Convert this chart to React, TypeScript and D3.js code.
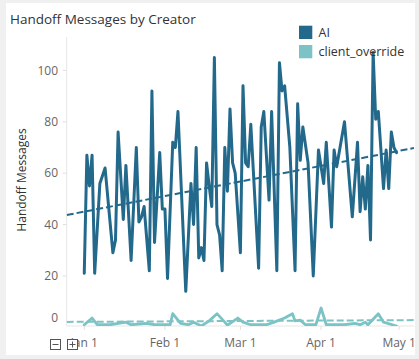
import React from 'react';
import * as d3 from 'd3';

const aiDates = [
  '2024-01-01','2024-01-02','2024-01-03','2024-01-04','2024-01-05','2024-01-07','2024-01-09','2024-01-12','2024-01-13','2024-01-14',
  '2024-01-16','2024-01-17','2024-01-19','2024-01-21','2024-01-22','2024-01-23','2024-01-24','2024-01-26','2024-01-27','2024-01-28',
  '2024-01-30','2024-01-31','2024-02-01','2024-02-02','2024-02-04','2024-02-05','2024-02-06','2024-02-09','2024-02-11','2024-02-12',
  '2024-02-13','2024-02-14','2024-02-15','2024-02-16','2024-02-17','2024-02-18','2024-02-19','2024-02-20','2024-02-21','2024-02-22',
  '2024-02-23','2024-02-24','2024-02-25','2024-02-26','2024-02-27','2024-02-28','2024-03-01','2024-03-02','2024-03-03','2024-03-04',
  '2024-03-05','2024-03-08','2024-03-09','2024-03-10','2024-03-12','2024-03-13','2024-03-15','2024-03-16','2024-03-17','2024-03-18',
  '2024-03-20','2024-03-22','2024-03-23','2024-03-24','2024-03-25','2024-03-27','2024-03-29','2024-03-31','2024-04-02','2024-04-03',
  '2024-04-05','2024-04-06','2024-04-07','2024-04-10','2024-04-13','2024-04-15','2024-04-16','2024-04-17','2024-04-18','2024-04-19',
  '2024-04-20','2024-04-21','2024-04-22','2024-04-23','2024-04-25','2024-04-26','2024-04-27','2024-04-28','2024-04-29','2024-04-30',
];
const aiValues = [
  21, 67, 55, 67, 21, 56, 62, 29, 34, 76,
  42, 63, 26, 70, 41, 43, 47, 22, 92, 33,
  68, 46, 46, 19, 72, 70, 84, 14, 56, 40,
  70, 27, 31, 26, 64, 55, 47, 105, 40, 36,
  22, 70, 53, 85, 64, 60, 29, 94, 64, 62.5,
  79, 23, 78, 84, 49.5, 84, 22, 103, 92, 94,
  70, 22, 87, 65, 78, 64, 20, 69, 56, 72,
  39, 69, 62.5, 80, 43, 72, 45, 58.6, 46, 63,
  34, 107, 81, 84, 54, 69, 54, 76, 70, 68,
];

const clientDates = [
  '2024-01-01','2024-01-04','2024-01-06','2024-01-11','2024-01-17','2024-01-19','2024-01-25','2024-01-28','2024-02-03','2024-02-04',
  '2024-02-07','2024-02-10','2024-02-12','2024-02-15','2024-02-18','2024-02-21','2024-02-24','2024-02-25','2024-02-29','2024-03-02',
  '2024-03-05','2024-03-11','2024-03-14','2024-03-18','2024-03-21','2024-03-22','2024-03-24','2024-03-26','2024-03-30','2024-04-01',
  '2024-04-03','2024-04-10','2024-04-14','2024-04-16','2024-04-18','2024-04-19','2024-04-23','2024-04-25','2024-04-30',
];
const clientValues = [
  1, 3.6, 1, 1, 2, 1, 1.5, 1, 1, 5.3,
  1.5, 1, 2, 0.5, 2.5, 5.3, 2, 0.8, 3.6, 2,
  1, 1, 2, 3.6, 5.3, 2.5, 2.8, 1, 1, 7.5,
  1, 1, 1.5, 1, 2, 1, 5.3, 2, 0.5,
];

const trendDates = ['2023-12-25T06:00', '2024-05-06T17:00'];
const aiTrendValues = [43.7, 69.8];
const clientTrendValues = [2.1, 2.8];

const xTickDates = ['2024-01-01', '2024-02-01', '2024-03-01', '2024-04-01', '2024-05-01'];
const yTicks = [0, 20, 40, 60, 80, 100];
const seriesNames = ['AI', 'client_override'];
const seriesColors = ['#23698b', '#7cc3c5'];

const parseDay = d3.timeParse('%Y-%m-%d');
const parseDT = d3.timeParse('%Y-%m-%dT%H:%M');

export default function App() {
  const W = 419, H = 359;
  const left = 66.7, right = 414, top = 37, bottom = 326;
  const font = '"Open Sans", sans-serif';

  const x = d3.scaleTime()
    .domain([parseDT(trendDates[0])!, parseDT(trendDates[1])!])
    .range([left, right]);
  const y = d3.scaleLinear().domain([0.5, 113]).range([bottom, top]);

  const line = d3.line<[Date, number]>()
    .x(d => x(d[0]))
    .y(d => y(d[1]));

  const aiPts: [Date, number][] = aiDates.map((d, i) => [parseDay(d)!, aiValues[i]]);
  const clPts: [Date, number][] = clientDates.map((d, i) => [parseDay(d)!, clientValues[i]]);
  const aiTrend: [Date, number][] = trendDates.map((d, i) => [parseDT(d)!, aiTrendValues[i]]);
  const clTrend: [Date, number][] = trendDates.map((d, i) => [parseDT(d)!, clientTrendValues[i]]);
  const fmt = d3.timeFormat('%b %-d');

  return (
    <svg width={W} height={H} style={{ position: 'absolute', left: 0, top: 0 }} fontFamily={font}>
      <rect x={0} y={0} width={W} height={H} fill="#f0f0f0" />
      <rect x={6} y={3} width={409} height={352} fill="#ffffff" />
      <defs>
        <clipPath id="plot">
          <rect x={left} y={top} width={right - left} height={bottom - top} />
        </clipPath>
      </defs>
      <text x={10} y={24} fontSize={13.5} fill="#333">Handoff Messages by Creator</text>

      {/* axes */}
      <line x1={left} x2={left} y1={top} y2={bottom} stroke="#e6e6e6" strokeWidth={1} />
      <line x1={left} x2={right} y1={bottom} y2={bottom} stroke="#e6e6e6" strokeWidth={1} />
      {yTicks.map(t => (
        <g key={t}>
          {t > 0 && <line x1={left - 4} x2={left} y1={y(t)} y2={y(t)} stroke="#e0e0e0" />}
          <text x={58} y={Math.min(y(t), 317.5)} dy="0.35em" textAnchor="end" fontSize={12} fill="#666">{t}</text>
        </g>
      ))}
      {xTickDates.map(s => {
        const d = parseDay(s)!;
        return (
          <g key={s}>
            <line x1={x(d)} x2={x(d)} y1={bottom} y2={bottom + 4} stroke="#e0e0e0" />
            <text x={x(d)} y={347} textAnchor="middle" fontSize={12} fill="#666">{fmt(d)}</text>
          </g>
        );
      })}
      <text transform={`translate(26,180) rotate(-90)`} textAnchor="middle" fontSize={12} fill="#333">Handoff Messages</text>

      <g clipPath="url(#plot)">
        <path d={line(clTrend)!} fill="none" stroke={seriesColors[1]} strokeWidth={2} strokeDasharray="7,3" />
        <path d={line(clPts)!} fill="none" stroke={seriesColors[1]} strokeWidth={2.8} strokeLinejoin="round" strokeLinecap="round" />
        <path d={line(aiPts)!} fill="none" stroke={seriesColors[0]} strokeWidth={3} strokeLinejoin="round" strokeLinecap="round" />
        <path d={line(aiTrend)!} fill="none" stroke={seriesColors[0]} strokeWidth={2} strokeDasharray="7,3" />
      </g>

      {/* legend */}
      {seriesNames.map((n, i) => (
        <g key={n} transform={`translate(299,${25.7 + i * 19.3})`}>
          <rect width={13.3} height={13.3} fill={seriesColors[i]} />
          <text x={19.5} y={6.7} dy="0.35em" fontSize={12.5} fill="#333">{n}</text>
        </g>
      ))}

      {/* zoom buttons */}
      <g stroke="#555" strokeWidth={1} fill="#fff">
        <rect x={50.5} y={339.5} width={10} height={10} />
        <line x1={52.5} x2={58.5} y1={344.5} y2={344.5} />
        <rect x={67.5} y={339.5} width={10} height={10} />
        <line x1={69.5} x2={75.5} y1={344.5} y2={344.5} />
        <line x1={72.5} x2={72.5} y1={341.5} y2={347.5} />
      </g>
    </svg>
  );
}
